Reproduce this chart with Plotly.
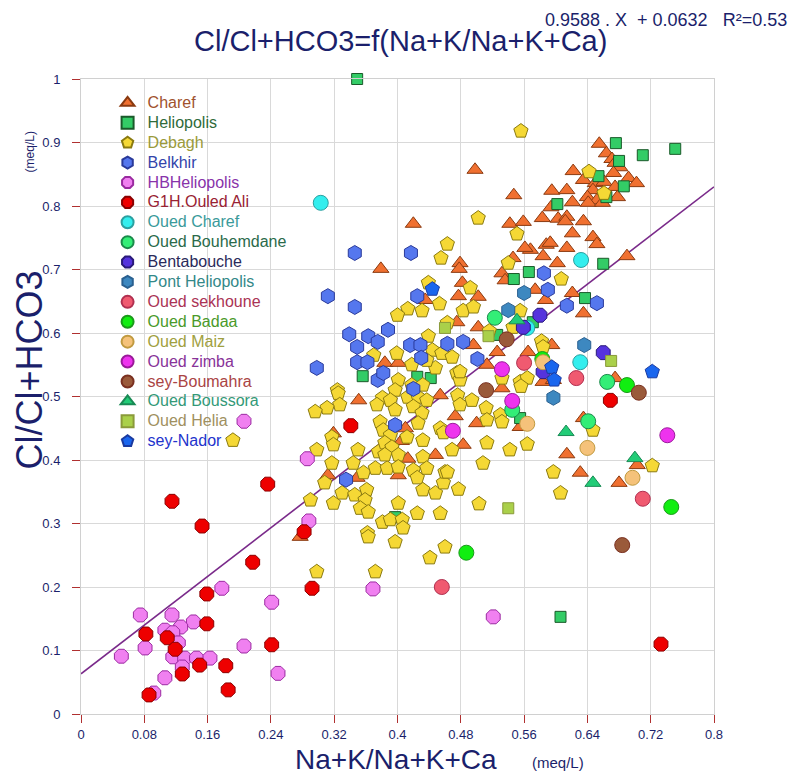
import plotly.graph_objects as go

# ---- data: (Na+K)/(Na+K+Ca) on x, Cl/(Cl+HCO3) on y, meq/L ----
charef_x = [0.655, 0.664, 0.671, 0.675, 0.681, 0.622, 0.635, 0.673, 0.692, 0.702, 0.650, 0.661, 0.647, 0.675,
            0.595, 0.614, 0.640, 0.652, 0.678, 0.621, 0.594, 0.641, 0.659, 0.583, 0.603, 0.614, 0.612, 0.635,
            0.621, 0.647, 0.652, 0.588, 0.593, 0.614, 0.584, 0.602, 0.690, 0.574, 0.587, 0.621, 0.635, 0.568,
            0.498, 0.547, 0.420, 0.542, 0.559, 0.479, 0.561, 0.379, 0.478, 0.546, 0.532, 0.536, 0.482, 0.477,
            0.502, 0.435, 0.475, 0.502, 0.496, 0.526, 0.565, 0.595, 0.384, 0.401,
            0.351, 0.454, 0.532, 0.473, 0.500, 0.555, 0.410, 0.319, 0.483, 0.448, 0.413, 0.614, 0.631, 0.680,
            0.703, 0.312, 0.349, 0.401, 0.277, 0.635, 0.513, 0.584, 0.597, 0.675, 0.405]
charef_y = [0.898, 0.883, 0.874, 0.868, 0.861, 0.855, 0.841, 0.852, 0.844, 0.836, 0.836, 0.838, 0.825, 0.830,
            0.824, 0.825, 0.814, 0.809, 0.814, 0.806, 0.798, 0.805, 0.805, 0.781, 0.780, 0.783, 0.776, 0.776,
            0.757, 0.751, 0.740, 0.739, 0.742, 0.734, 0.721, 0.710, 0.721, 0.668, 0.652, 0.663, 0.631, 0.731,
            0.857, 0.817, 0.772, 0.772, 0.775, 0.710, 0.734, 0.701, 0.701, 0.718, 0.694, 0.683, 0.679, 0.658,
            0.657, 0.652, 0.617, 0.609, 0.581, 0.570, 0.570, 0.581, 0.553, 0.553,
            0.494, 0.502, 0.513, 0.469, 0.458, 0.452, 0.450, 0.442, 0.424, 0.408, 0.402, 0.409, 0.380, 0.364,
            0.392, 0.376, 0.372, 0.376, 0.279, 0.466, 0.550, 0.523, 0.526, 0.529, 0.430]

heliopolis_x = [0.349, 0.676, 0.710, 0.751, 0.680, 0.654, 0.686, 0.664, 0.602, 0.660, 0.637, 0.566, 0.547,
                0.526, 0.356, 0.425, 0.442, 0.571, 0.555, 0.606, 0.397]
heliopolis_y = [1.000, 0.899, 0.880, 0.890, 0.871, 0.847, 0.831, 0.814, 0.803, 0.709, 0.655, 0.696, 0.685,
                0.597, 0.532, 0.531, 0.529, 0.617, 0.466, 0.153, 0.310]

debagh_x = [0.556, 0.642, 0.661, 0.502, 0.551, 0.463, 0.455, 0.540, 0.607, 0.439, 0.492, 0.453, 0.413, 0.431,
            0.400, 0.483, 0.496, 0.555, 0.546, 0.516, 0.582, 0.584, 0.439, 0.463, 0.370, 0.399, 0.444, 0.456,
            0.469, 0.475, 0.479, 0.448, 0.437, 0.418, 0.555, 0.564, 0.324, 0.401, 0.420,
            0.418, 0.432, 0.397, 0.413, 0.381, 0.374, 0.391, 0.426, 0.437, 0.420, 0.397, 0.431, 0.378, 0.426,
            0.325, 0.327, 0.311, 0.296, 0.382, 0.391, 0.412, 0.432, 0.454, 0.458, 0.317, 0.319, 0.298, 0.350,
            0.376, 0.384, 0.393, 0.401, 0.432,
            0.317, 0.308, 0.344, 0.357, 0.372, 0.387, 0.330, 0.346, 0.361, 0.359, 0.353, 0.363, 0.319, 0.290,
            0.381, 0.391, 0.401, 0.406, 0.407, 0.362, 0.363, 0.397, 0.425, 0.454, 0.401, 0.420, 0.425, 0.432,
            0.448, 0.437, 0.458, 0.460, 0.384, 0.460, 0.441, 0.298, 0.372,
            0.556, 0.532, 0.479, 0.476, 0.479, 0.494, 0.512, 0.513, 0.530, 0.532, 0.469, 0.513, 0.542, 0.564,
            0.508, 0.463, 0.477, 0.503, 0.597, 0.606, 0.647, 0.722, 0.192]
debagh_y = [0.918, 0.854, 0.820, 0.781, 0.756, 0.740, 0.718, 0.710, 0.685, 0.679, 0.671, 0.646, 0.638, 0.635,
            0.628, 0.635, 0.641, 0.635, 0.609, 0.603, 0.587, 0.578, 0.595, 0.616, 0.565, 0.568, 0.573, 0.568,
            0.562, 0.537, 0.526, 0.545, 0.557, 0.550, 0.523, 0.529, 0.510, 0.526, 0.513,
            0.518, 0.518, 0.510, 0.499, 0.498, 0.487, 0.494, 0.499, 0.494, 0.484, 0.479, 0.474, 0.460, 0.458,
            0.505, 0.487, 0.482, 0.476, 0.447, 0.439, 0.436, 0.431, 0.450, 0.443, 0.436, 0.424, 0.416, 0.416,
            0.413, 0.427, 0.420, 0.408, 0.405,
            0.395, 0.364, 0.395, 0.380, 0.387, 0.387, 0.348, 0.345, 0.353, 0.337, 0.324, 0.318, 0.332, 0.337,
            0.302, 0.306, 0.332, 0.306, 0.293, 0.285, 0.279, 0.271, 0.316, 0.316, 0.389, 0.384, 0.372, 0.353,
            0.348, 0.387, 0.364, 0.381, 0.408, 0.263, 0.246, 0.224, 0.224,
            0.516, 0.529, 0.539, 0.502, 0.487, 0.494, 0.482, 0.463, 0.471, 0.460, 0.416, 0.427, 0.416, 0.425,
            0.395, 0.381, 0.354, 0.331, 0.381, 0.348, 0.447, 0.391, 0.431]

belkhir_x = [0.346, 0.417, 0.312, 0.346, 0.425, 0.339, 0.363, 0.375, 0.388, 0.349, 0.349, 0.362, 0.298, 0.416,
             0.429, 0.463, 0.483, 0.430, 0.501, 0.375, 0.382, 0.585, 0.590, 0.614, 0.652, 0.420, 0.397, 0.335]
belkhir_y = [0.726, 0.726, 0.658, 0.641, 0.658, 0.598, 0.595, 0.586, 0.605, 0.578, 0.554, 0.554, 0.545, 0.581,
             0.581, 0.583, 0.586, 0.561, 0.559, 0.526, 0.537, 0.694, 0.668, 0.643, 0.647, 0.512, 0.455, 0.369]

hbheliopolis_x = [0.286, 0.288, 0.178, 0.241, 0.075, 0.115, 0.142, 0.126, 0.106, 0.116, 0.123, 0.081, 0.051,
                  0.116, 0.131, 0.146, 0.163, 0.128, 0.206, 0.249, 0.106, 0.092, 0.206, 0.369, 0.521]
hbheliopolis_y = [0.402, 0.304, 0.198, 0.176, 0.156, 0.156, 0.145, 0.137, 0.132, 0.128, 0.112, 0.104, 0.091,
                  0.090, 0.088, 0.088, 0.088, 0.074, 0.107, 0.064, 0.057, 0.033, 0.461, 0.197, 0.153]

g1h_x = [0.236, 0.115, 0.153, 0.217, 0.282, 0.292, 0.159, 0.159, 0.082, 0.109, 0.119, 0.241, 0.150, 0.183,
         0.128, 0.186, 0.086, 0.341, 0.669, 0.733]
g1h_y = [0.362, 0.335, 0.296, 0.239, 0.287, 0.198, 0.189, 0.142, 0.126, 0.120, 0.102, 0.109, 0.077, 0.076,
         0.063, 0.038, 0.030, 0.454, 0.494, 0.110]

oued_charef_x = [0.303, 0.632, 0.631, 0.564]
oued_charef_y = [0.805, 0.715, 0.554, 0.608]
bouhemdane_x = [0.523, 0.545, 0.665, 0.641]
bouhemdane_y = [0.624, 0.479, 0.523, 0.461]
bentabouche_x = [0.580, 0.559, 0.584, 0.660]
bentabouche_y = [0.628, 0.609, 0.539, 0.569]
pont_x = [0.560, 0.540, 0.636, 0.597]
pont_y = [0.663, 0.636, 0.581, 0.498]
sekhoune_x = [0.560, 0.626, 0.710, 0.456]
sekhoune_y = [0.553, 0.529, 0.339, 0.200]
badaa_x = [0.690, 0.746, 0.487, 0.583]
badaa_y = [0.518, 0.326, 0.254, 0.559]
maiz_x = [0.564, 0.640, 0.697, 0.584]
maiz_y = [0.457, 0.419, 0.372, 0.554]
zimba_x = [0.532, 0.545, 0.470, 0.741]
zimba_y = [0.543, 0.493, 0.446, 0.439]
boumahra_x = [0.538, 0.512, 0.705, 0.684]
boumahra_y = [0.590, 0.510, 0.506, 0.266]
boussora_x = [0.551, 0.613, 0.647, 0.700]
boussora_y = [0.620, 0.444, 0.364, 0.403]
helia_x = [0.460, 0.515, 0.670, 0.540]
helia_y = [0.608, 0.595, 0.556, 0.324]
nador_x = [0.444, 0.595, 0.598, 0.722]
nador_y = [0.669, 0.546, 0.526, 0.539]

# regression line y = a*x + b
slope = 0.9588
intercept = 0.0632
r2 = 0.53
line_x = [0.0, 0.8]

x_ticks = [0, 0.08, 0.16, 0.24, 0.32, 0.4, 0.48, 0.56, 0.64, 0.72, 0.8]
x_tick_text = ["0", "0.08", "0.16", "0.24", "0.32", "0.4", "0.48", "0.56", "0.64", "0.72", "0.8"]
y_ticks = [0, 0.1, 0.2, 0.3, 0.4, 0.5, 0.6, 0.7, 0.8, 0.9, 1.0]
y_tick_text = ["0", "0.1", "0.2", "0.3", "0.4", "0.5", "0.6", "0.7", "0.8", "0.9", "1"]

# name, x, y, symbol, size, fill, outline, legend text colour
series = [
    ("Charef", charef_x, charef_y, "triangle-up", 14, "#f07030", "#8a3a10", "#a0522d"),
    ("Heliopolis", heliopolis_x, heliopolis_y, "square", 11, "#33cc66", "#1a5a2a", "#2f6b3a"),
    ("Debagh", debagh_x, debagh_y, "pentagon", 15, "#f5d835", "#8a7a10", "#9a9a3a"),
    ("Belkhir", belkhir_x, belkhir_y, "hexagon", 15, "#5577ee", "#2a3a9a", "#3344aa"),
    ("HBHeliopolis", hbheliopolis_x, hbheliopolis_y, "octagon", 15, "#f080f0", "#9a2aa0", "#8833aa"),
    ("G1H.Ouled Ali", g1h_x, g1h_y, "octagon", 15, "#ee0000", "#8a0000", "#992233"),
    ("Oued Charef", oued_charef_x, oued_charef_y, "circle", 15, "#33eeee", "#2aa0a0", "#3a9a9a"),
    ("Oued Bouhemdane", bouhemdane_x, bouhemdane_y, "circle", 15, "#33ee77", "#1a8a4a", "#2a6a4a"),
    ("Bentabouche", bentabouche_x, bentabouche_y, "octagon", 15, "#5533dd", "#2a1a7a", "#2a2a5a"),
    ("Pont Heliopolis", pont_x, pont_y, "hexagon", 15, "#3d88c0", "#2a6090", "#338888"),
    ("Oued sekhoune", sekhoune_x, sekhoune_y, "circle", 15, "#f05a70", "#b03050", "#aa3355"),
    ("Oued Badaa", badaa_x, badaa_y, "circle", 15, "#11ee11", "#1a9a1a", "#4a9a2a"),
    ("Oued Maiz", maiz_x, maiz_y, "circle", 15, "#f5c27a", "#c09a40", "#a0a040"),
    ("Oued zimba", zimba_x, zimba_y, "circle", 15, "#ee33ee", "#9a1a9a", "#883399"),
    ("sey-Boumahra", boumahra_x, boumahra_y, "circle", 15, "#9a5a3a", "#7a3020", "#aa4444"),
    ("Oued Boussora", boussora_x, boussora_y, "triangle-up", 14, "#22cc77", "#1a8a55", "#339977"),
    ("Oued Helia", helia_x, helia_y, "square", 11, "#aad04a", "#8a9a3a", "#a09060"),
    ("sey-Nador", nador_x, nador_y, "pentagon", 15, "#1a66ee", "#1a3aa0", "#2233cc"),
]

NAVY = "#1b1f6b"
FONT = "Arial, Liberation Sans, sans-serif"
NBSP = "\u00a0"

fig = go.Figure()

fig.add_trace(go.Scatter(
    x=line_x, y=[slope * v + intercept for v in line_x], mode="lines",
    line=dict(color="#7a2a8a", width=1.6), showlegend=False, hoverinfo="skip"))

for name, xs, ys, sym, size, fill, edge, txt in series:
    fig.add_trace(go.Scatter(
        x=xs, y=ys, mode="markers", cliponaxis=False,
        name=f"<span style='color:{txt};font-size:16px'>{name}</span>",
        marker=dict(symbol=sym, size=size, color=fill, line=dict(color=edge, width=1))))

axis_common = dict(
    showgrid=True, gridcolor="#d9d9d9", gridwidth=1,
    showline=True, linecolor="#d0d0d0", linewidth=1, mirror=True,
    ticks="outside", ticklen=8, tickcolor="#b03030", tickwidth=1,
    tickfont=dict(family=FONT, size=13, color=NAVY), zeroline=False,
)

fig.update_xaxes(range=[0, 0.8], tickvals=x_ticks, ticktext=x_tick_text, **axis_common)
fig.update_yaxes(range=[0, 1.0], tickvals=y_ticks, ticktext=y_tick_text, ticklabelstandoff=9, **axis_common)

equation = f"{slope} . X{NBSP}{NBSP}+ {intercept}{NBSP}{NBSP}{NBSP}R²={r2}"

annotations = [
    dict(text="Cl/Cl+HCO3=f(Na+K/Na+K+Ca)", x=0.505, y=1.060, font=dict(size=29, color=NAVY)),
    dict(text=equation, x=1.118, y=1.093, xanchor="right", font=dict(size=18, color=NAVY)),
    dict(text="Cl/Cl+HCO3", x=-0.081, y=0.542, textangle=-90, font=dict(size=36, color=NAVY)),
    dict(text="(meq/L)", x=-0.080, y=0.885, textangle=-90, font=dict(size=12, color=NAVY)),
    dict(text="Na+K/Na+K+Ca", x=0.498, y=-0.072, font=dict(size=28, color=NAVY)),
    dict(text="(meq/L)", x=0.754, y=-0.076, font=dict(size=15, color=NAVY)),
]
for a in annotations:
    a.setdefault("xanchor", "center")
    a.update(xref="paper", yref="paper", showarrow=False, yanchor="middle")
    a["font"]["family"] = FONT

fig.update_layout(
    width=792, height=776,
    margin=dict(l=81, r=78, t=79, b=62),
    paper_bgcolor="white", plot_bgcolor="white",
    font=dict(family=FONT, color=NAVY),
    annotations=annotations,
    legend=dict(x=0.042, y=0.986, xanchor="left", yanchor="top", bgcolor="rgba(0,0,0,0)",
                font=dict(family=FONT, size=13), tracegroupgap=0, itemsizing="constant"),
)

fig.write_html("out.html")
